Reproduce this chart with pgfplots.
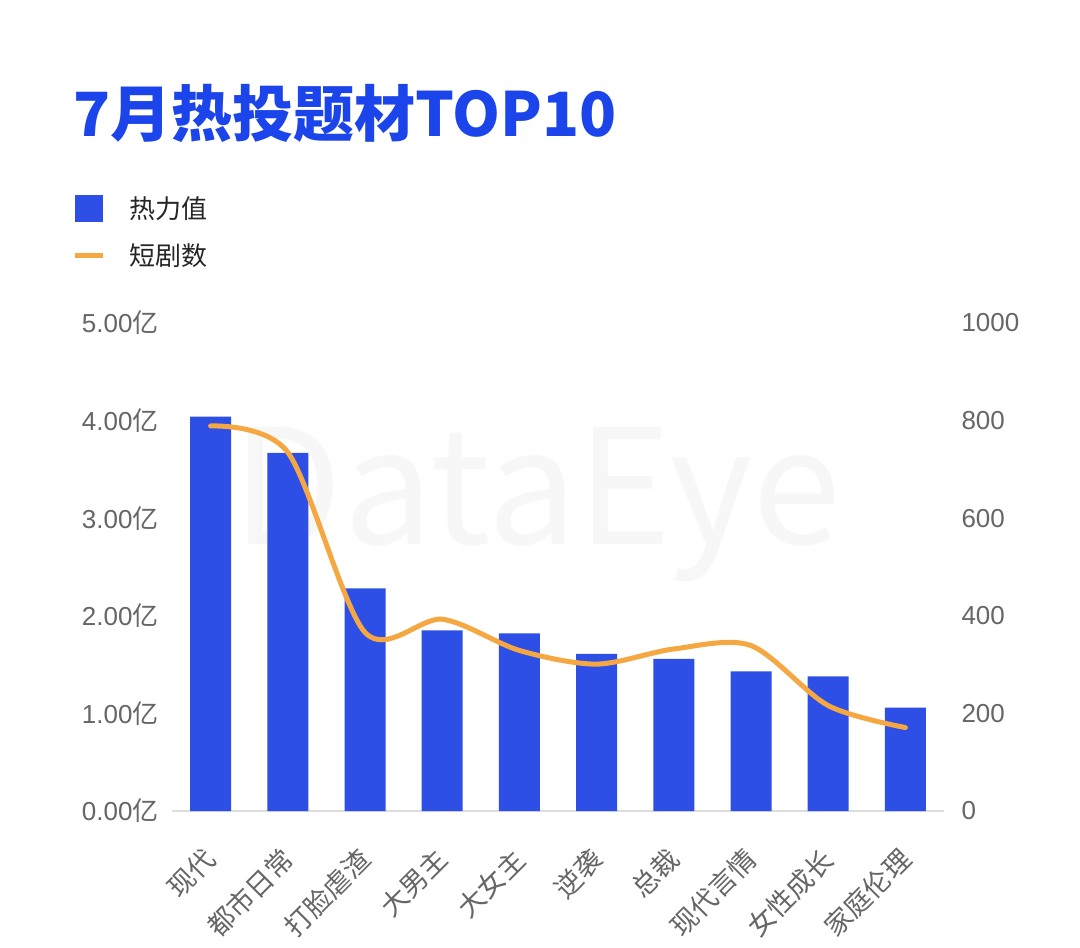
\documentclass[border=0pt]{standalone}
\usepackage{pgfplots}
\pgfplotsset{compat=1.18}
\usepackage{fontspec}
\setmainfont{Noto Sans CJK SC}
\newfontfamily\cjk{Noto Sans CJK SC}
\newfontfamily\lib{Liberation Sans}
\definecolor{barblue}{HTML}{2D4FE6}
\definecolor{titleblue}{HTML}{1B45EA}
\definecolor{lineorange}{HTML}{F5A742}
\definecolor{ticktext}{HTML}{666666}
\definecolor{basegray}{HTML}{DDDDDD}
\definecolor{wm}{HTML}{F7F7F7}
\begin{document}
\begin{tikzpicture}
\path[use as bounding box, fill=white] (0,0) rectangle (1080bp,-948bp);
% watermark
\node[anchor=center, text=wm, font=\cjk\fontsize{160bp}{160bp}\selectfont] at (537bp,-505bp) {DataEye};
% title
\node[anchor=west, inner sep=0pt, text=titleblue, font=\cjk\bfseries\fontsize{61bp}{61bp}\selectfont] at (73bp,-113bp) {7月热投题材TOP10};
% legend
\fill[barblue] (75bp,-195bp) rectangle (103bp,-222bp);
\node[anchor=west, inner sep=0pt, text=black!85, font=\cjk\fontsize{26bp}{26bp}\selectfont] at (129bp,-209bp) {热力值};
\draw[lineorange, line width=5bp] (75bp,-255bp) -- (103bp,-255bp);
\node[anchor=west, inner sep=0pt, text=black!85, font=\cjk\fontsize{26bp}{26bp}\selectfont] at (129bp,-256bp) {短剧数};
\begin{axis}[
  at={(172bp,-811bp)}, anchor=south west,
  scale only axis, width=772bp, height=488bp,
  xmin=-0.5, xmax=9.5, ymin=0, ymax=5,
  axis x line*=bottom, axis y line*=left,
  x axis line style={draw=basegray, line width=1.5bp, -},
  y axis line style={draw=none},
  major tick length=0pt,
  xtick={0,...,9},
  xticklabels={现代,都市日常,打脸虐渣,大男主,大女主,逆袭,总裁,现代言情,女性成长,家庭伦理},
  ytick={0,1,2,3,4,5},
  yticklabels={{\lib 0.00}亿,{\lib 1.00}亿,{\lib 2.00}亿,{\lib 3.00}亿,{\lib 4.00}亿,{\lib 5.00}亿},
  /pgf/number format/assume math mode=true,
  ticklabel style={font=\cjk\fontsize{26bp}{26bp}\selectfont, text=ticktext},
  yticklabel style={anchor=east, xshift=-10bp},
  xticklabel style={font=\cjk\fontsize{27bp}{27bp}\selectfont, rotate=45, anchor=north east, xshift=-27bp, yshift=-15bp},
  ybar, bar width=41bp,
  clip=false,
]
\addplot[fill=barblue, draw=none] coordinates {
  (0,4.04) (1,3.67) (2,2.28) (3,1.85) (4,1.82) (5,1.61) (6,1.56) (7,1.43) (8,1.38) (9,1.06)
};
\end{axis}
\begin{axis}[
  at={(172bp,-811bp)}, anchor=south west,
  scale only axis, width=772bp, height=488bp,
  xmin=-0.5, xmax=9.5, ymin=0, ymax=1000,
  axis x line=none, axis y line*=right,
  y axis line style={draw=none},
  major tick length=0pt,
  ytick={0,200,400,600,800,1000},
  yticklabels={0,200,400,600,800,1000},
  /pgf/number format/assume math mode=true,
  ticklabel style={font=\lib\fontsize{26bp}{26bp}\selectfont, text=ticktext},
  yticklabel style={anchor=west, xshift=14bp},
  clip=false,
]
\addplot[smooth, tension=0.5, draw=lineorange, line width=5bp, line cap=round, line join=round] coordinates {
  (0,789) (1,735) (2,366) (3,393) (4,329) (5,301) (6,332) (7,339) (8,216) (9,171)
};
\end{axis}
\end{tikzpicture}
\end{document}
